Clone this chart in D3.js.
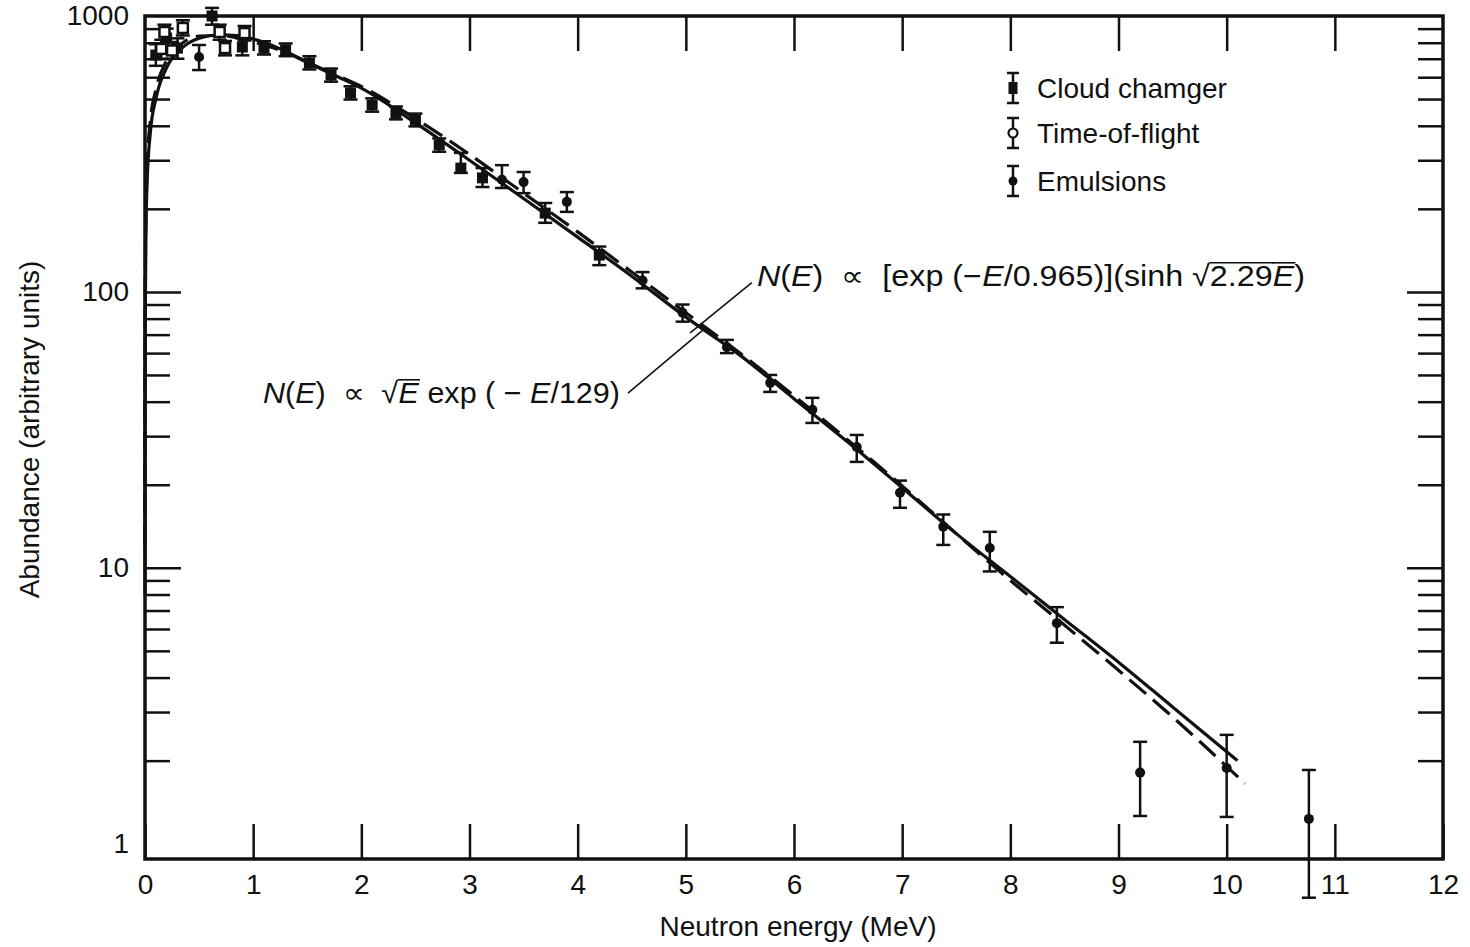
<!DOCTYPE html>
<html>
<head>
<meta charset="utf-8">
<script src="https://cdn.jsdelivr.net/npm/d3@7"></script>
<style>
  html, body { margin: 0; background: #fff; overflow: hidden; }
  svg { display: block; }
  svg text { font-family: "Liberation Sans", Arial, sans-serif; fill: #111; }
</style>
</head>
<body>
<div id="chart"></div>
<script>
// ---- data ----
// fitted curves, [energy MeV, abundance]
const solidCurve = [
  [0.00002, 8], [0.0002, 25], [0.002, 80], [0.01, 175], [0.02, 250], [0.05, 380],
  [0.1, 500], [0.2, 650], [0.35, 770], [0.5, 830], [0.7, 855], [0.85, 850],
  [1.0, 825], [1.25, 760], [1.5, 680], [1.75, 610], [2.0, 548], [2.5, 410],
  [3.0, 300], [3.5, 218], [4.0, 158], [4.5, 114], [5.0, 81], [5.5, 59],
  [6.0, 41], [6.5, 28.5], [7.0, 19.5], [7.5, 13.3], [8.0, 9.3], [8.5, 6.5],
  [9.0, 4.55], [9.5, 3.13], [10.1, 2.0]
];
const dashedCurve = [
  [0.00002, 12], [0.0002, 35], [0.002, 105], [0.01, 210], [0.02, 290], [0.05, 420],
  [0.1, 540], [0.2, 690], [0.35, 800], [0.5, 845], [0.7, 850], [0.85, 835],
  [1.0, 805], [1.25, 750], [1.5, 680], [1.75, 615], [2.0, 555], [2.5, 425],
  [3.0, 315], [3.5, 228], [4.0, 165], [4.5, 118], [5.0, 84], [5.5, 60],
  [6.0, 42], [6.5, 29], [7.0, 19.8], [7.5, 13.3], [8.0, 9.0], [8.5, 6.2],
  [9.0, 4.25], [9.5, 2.88], [10.17, 1.65]
];

// measurements, [energy, value, low, high]
const cloudChamber = [
  [0.1, 722, 660, 790], [0.2, 832, 770, 900], [0.3, 765, 700, 830],
  [0.62, 1000, 930, 1070], [0.9, 772, 720, 830], [1.1, 765, 725, 810],
  [1.3, 753, 715, 795], [1.52, 676, 640, 715], [1.72, 611, 578, 645],
  [1.9, 526, 498, 556], [2.1, 476, 450, 503], [2.32, 445, 422, 470],
  [2.5, 420, 398, 443], [2.72, 341, 322, 360], [2.92, 281, 270, 319],
  [3.12, 259, 240, 281], [3.7, 193, 178, 210], [4.2, 136, 125, 146]
];
const timeOfFlight = [
  [0.15, 760, 700, 820], [0.18, 875, 820, 930], [0.25, 750, 700, 805],
  [0.35, 905, 850, 965], [0.69, 875, 820, 930], [0.74, 765, 720, 812],
  [0.92, 867, 815, 920]
];
const emulsions = [
  [0.5, 710, 637, 785], [3.3, 255, 238, 288], [3.5, 250, 228, 272],
  [3.9, 212, 195, 230], [4.6, 110, 103, 118], [4.97, 84, 78, 90],
  [5.38, 63, 60, 67], [5.78, 46.8, 43.4, 50], [6.17, 37.4, 33.5, 41.3],
  [6.58, 27.4, 24.2, 30.3], [6.98, 18.7, 16.5, 20.7], [7.38, 14.1, 12.1, 15.6],
  [7.81, 11.8, 9.7, 13.5], [8.43, 6.3, 5.35, 7.2], [9.2, 1.81, 1.26, 2.34],
  [10.0, 1.88, 1.25, 2.48], [10.76, 1.23, 0.637, 1.85]
];

const xTickValues = d3.range(0, 13);
const yLabelValues = [1, 10, 100, 1000];
const yMajorTicks = [10, 100];
const yMinorTicks = [1, 10, 100].flatMap(d => d3.range(2, 10).map(k => k * d));
const legendLabels = ["Cloud chamger", "Time-of-flight", "Emulsions"];

// ---- layout ----
const width = 1470, height = 947;
const margin = {top: 16, right: 27, bottom: 88, left: 145};
const innerWidth = width - margin.left - margin.right;
const innerHeight = height - margin.top - margin.bottom;
const serif = '"Liberation Serif", "DejaVu Serif", serif';
const sp = "\u00A0";

const svg = d3.select("#chart").append("svg")
  .attr("width", width).attr("height", height);

const inner = svg.append("g")
  .attr("transform", `translate(${margin.left}, ${margin.top})`);

const x = d3.scaleLinear().domain([0, 12]).range([0, innerWidth]);
const y = d3.scaleLog().domain([0.88, 1000]).range([innerHeight, 0]);

// ---- axes, ticks pointing inward ----
const styleAxis = (g, w, keepText) => {
  g.select(".domain").remove();
  g.selectAll(".tick line").attr("stroke", "#111").attr("stroke-width", w);
  if (keepText) g.selectAll(".tick text").attr("font-size", 28).attr("fill", "#111");
  else g.selectAll(".tick text").remove();
};

inner.append("g")
  .attr("transform", `translate(0, ${innerHeight})`)
  .call(d3.axisBottom(x).tickValues(xTickValues).tickSizeInner(-35).tickSizeOuter(0).tickPadding(15))
  .call(g => styleAxis(g, 2.5, true));

inner.append("g")
  .call(d3.axisTop(x).tickValues(xTickValues.slice(1, -1)).tickSizeInner(-35).tickSizeOuter(0))
  .call(g => styleAxis(g, 2.5, false));

inner.append("g")
  .call(d3.axisLeft(y).tickValues(yLabelValues).tickSize(0).tickPadding(16).tickFormat(d3.format("d")))
  .call(g => styleAxis(g, 0, true));

[[d3.axisLeft, 0], [d3.axisRight, innerWidth]].forEach(([axis, tx]) => {
  inner.append("g")
    .attr("transform", `translate(${tx}, 0)`)
    .call(axis(y).tickValues(yMajorTicks).tickSize(-36))
    .call(g => styleAxis(g, 2.5, false));
  inner.append("g")
    .attr("transform", `translate(${tx}, 0)`)
    .call(axis(y).tickValues(yMinorTicks).tickSize(-25))
    .call(g => styleAxis(g, 2.5, false));
});

// frame
inner.append("rect")
  .attr("width", innerWidth).attr("height", innerHeight)
  .attr("fill", "none").attr("stroke", "#111").attr("stroke-width", 3.5);

// ---- curves ----
const line = d3.line()
  .x(d => x(d[0])).y(d => y(d[1]))
  .curve(d3.curveMonotoneX);

inner.append("path").datum(solidCurve)
  .attr("d", line).attr("fill", "none")
  .attr("stroke", "#111").attr("stroke-width", 3.2);

inner.append("path").datum(dashedCurve)
  .attr("d", line).attr("fill", "none")
  .attr("stroke", "#111").attr("stroke-width", 3.2)
  .attr("stroke-dasharray", "22,9");

// ---- measurements with error bars ----
const drawErrorBars = (data, cls) => {
  const g = inner.append("g").attr("class", cls);
  g.selectAll("line.bar").data(data).join("line").attr("class", "bar")
    .attr("x1", d => x(d[0])).attr("x2", d => x(d[0]))
    .attr("y1", d => y(d[2])).attr("y2", d => y(d[3]))
    .attr("stroke", "#111").attr("stroke-width", 2.5);
  [2, 3].forEach(i => {
    g.selectAll(`line.cap${i}`).data(data).join("line").attr("class", `cap${i}`)
      .attr("x1", d => x(d[0]) - 7).attr("x2", d => x(d[0]) + 7)
      .attr("y1", d => y(d[i])).attr("y2", d => y(d[i]))
      .attr("stroke", "#111").attr("stroke-width", 2.5);
  });
  return g;
};

drawErrorBars(cloudChamber, "cloud")
  .selectAll("rect").data(cloudChamber).join("rect")
    .attr("x", d => x(d[0]) - 5.5).attr("y", d => y(d[1]) - 5.5)
    .attr("width", 11).attr("height", 11).attr("fill", "#111");

// time-of-flight shows as small open boxes in the plot
drawErrorBars(timeOfFlight, "tof")
  .selectAll("rect").data(timeOfFlight).join("rect")
    .attr("x", d => x(d[0]) - 5).attr("y", d => y(d[1]) - 5)
    .attr("width", 10).attr("height", 10)
    .attr("fill", "#fff").attr("stroke", "#111").attr("stroke-width", 2.5);

drawErrorBars(emulsions, "emul")
  .selectAll("circle").data(emulsions).join("circle")
    .attr("cx", d => x(d[0])).attr("cy", d => y(d[1])).attr("r", 5)
    .attr("fill", "#111");

// ---- legend ----
const legend = svg.append("g").attr("transform", "translate(1013, 88)");
legendLabels.forEach((label, i) => {
  const row = legend.append("g").attr("transform", `translate(0, ${[0, 45, 93][i]})`);
  row.append("line").attr("y1", -15).attr("y2", 15).attr("stroke", "#111").attr("stroke-width", 2.5);
  [-15, 15].forEach(cy => row.append("line").attr("x1", -6).attr("x2", 6)
    .attr("y1", cy).attr("y2", cy).attr("stroke", "#111").attr("stroke-width", 2.5));
  if (i === 0) row.append("rect").attr("x", -4.5).attr("y", -6).attr("width", 9).attr("height", 12).attr("fill", "#111");
  if (i === 1) row.append("circle").attr("r", 4.5).attr("fill", "#fff").attr("stroke", "#111").attr("stroke-width", 2.2);
  if (i === 2) row.append("circle").attr("r", 4.5).attr("fill", "#111");
  row.append("text").attr("x", 24).attr("y", 10).attr("font-size", 28).text(label);
});

// ---- formula annotations ----
// parts are laid out one after another, then stretched to the width seen in the figure
const richText = (x0, y0, parts, size, targetWidth) => {
  const g = svg.append("g");
  let cx = x0;
  parts.forEach(p => {
    const t = g.append("text").attr("x", cx).attr("y", y0).attr("font-size", size).text(p.t);
    if (p.it) t.attr("font-family", serif).attr("font-style", "italic");
    const w = t.node().getComputedTextLength();
    if (p.over) g.append("line").attr("x1", cx - 1).attr("x2", cx + w + 1)
      .attr("y1", y0 - size * 0.8).attr("y2", y0 - size * 0.8)
      .attr("stroke", "#111").attr("stroke-width", 1.6);
    cx += w;
  });
  const sx = targetWidth / (cx - x0);
  g.attr("transform", `translate(${x0}, 0) scale(${sx}, 1) translate(${-x0}, 0)`);
};

richText(757, 286, [
  {t: "N", it: true}, {t: "("}, {t: "E", it: true}, {t: `)${sp}${sp}\u221D${sp}${sp}[exp${sp}(\u2212`},
  {t: "E", it: true}, {t: `/0.965)](sinh${sp}\u221A`}, {t: "2.29", over: true},
  {t: "E", it: true, over: true}, {t: ")"}
], 29, 548);

richText(263, 403, [
  {t: "N", it: true}, {t: "("}, {t: "E", it: true}, {t: `)${sp}${sp}\u221D${sp}${sp}\u221A`},
  {t: "E", it: true, over: true}, {t: `${sp}exp${sp}(${sp}\u2212${sp}`}, {t: "E", it: true}, {t: "/129)"}
], 29, 357);

// leader lines, anchored in data space
const leaders = [
  [[5.61, 108], [5.04, 71]],
  [[4.465, 43], [5.16, 72.8]]
];
inner.selectAll("line.leader").data(leaders).join("line").attr("class", "leader")
  .attr("x1", d => x(d[0][0])).attr("y1", d => y(d[0][1]))
  .attr("x2", d => x(d[1][0])).attr("y2", d => y(d[1][1]))
  .attr("stroke", "#111").attr("stroke-width", 1.6);

// ---- axis titles ----
svg.append("text")
  .attr("x", margin.left + innerWidth / 2 + 4).attr("y", 936)
  .attr("text-anchor", "middle").attr("font-size", 28)
  .text("Neutron energy (MeV)");

svg.append("text")
  .attr("transform", `translate(39, ${margin.top + innerHeight / 2 - 8}) rotate(-90)`)
  .attr("text-anchor", "middle").attr("font-size", 28)
  .text("Abundance (arbitrary units)");
</script>
</body>
</html>
